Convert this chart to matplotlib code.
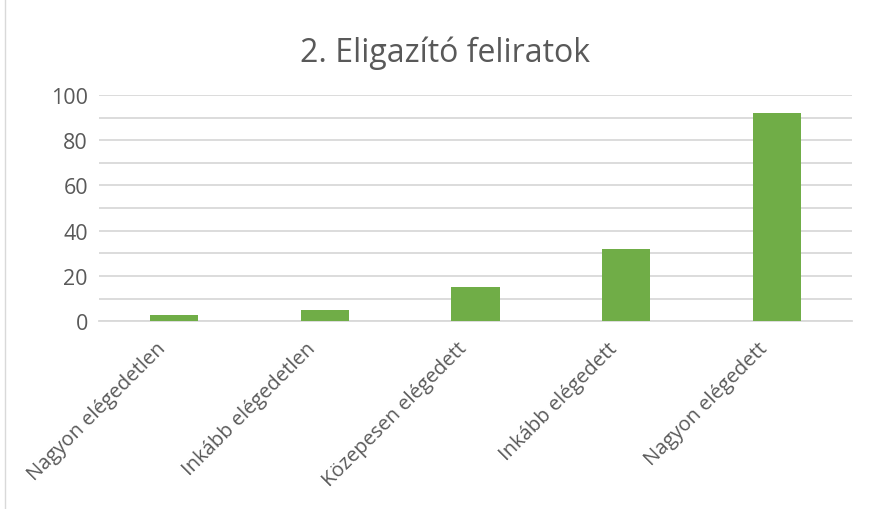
import matplotlib
matplotlib.use("Agg")
import matplotlib.pyplot as plt
import matplotlib.transforms as mtransforms
from matplotlib.lines import Line2D

categories = ["Nagyon elégedetlen", "Inkább elégedetlen", "Közepesen elégedett",
              "Inkább elégedett", "Nagyon elégedett"]
values = [3, 5, 15, 32, 92]
yticks = [0, 20, 40, 60, 80, 100]
title = "2. Eligazító feliratok"

GREEN = "#70AD47"
GREY = "#595959"
GRID = "#D9D9D9"

plt.rcParams["font.family"] = ["Open Sans", "DejaVu Sans"]

fig = plt.figure(figsize=(8.76, 5.10), dpi=100)
ax = fig.add_axes([0.113, 0.368, 0.8596, 0.444])

x = list(range(len(categories)))
ax.bar(x, values, width=0.32, color=GREEN, zorder=3)

ax.set_xlim(-0.5, len(categories) - 0.5)
ax.set_ylim(0, 100)
ax.set_yticks(yticks)
ax.set_yticks(range(10, 100, 20), minor=True)
ax.yaxis.grid(True, which="both", color=GRID, linewidth=1.3, zorder=0)
ax.set_axisbelow(True)
ax.tick_params(axis="y", which="both", length=0, labelsize=15.5, labelcolor=GREY, pad=8)
ax.tick_params(axis="x", length=0, labelsize=14.5, labelcolor=GREY, pad=12)
ax.set_xticks(x)
ax.set_xticklabels(categories, rotation=45, ha="right", rotation_mode="anchor")

# nudge rotated labels left so they end under the tick
shift = mtransforms.ScaledTranslation(-19 / 100, 0, fig.dpi_scale_trans)
for lbl in ax.get_xticklabels():
    lbl.set_transform(lbl.get_transform() + shift)

for s in ["top", "right", "left"]:
    ax.spines[s].set_visible(False)
ax.spines["bottom"].set_color(GRID)
ax.spines["bottom"].set_linewidth(1.3)

fig.text(0.5086, 0.895, title, ha="center", va="center", fontsize=23, color=GREY)
fig.add_artist(Line2D([0.006, 0.006], [0, 1], transform=fig.transFigure, color=GRID, lw=1))

fig.savefig("out.png", dpi=100)
